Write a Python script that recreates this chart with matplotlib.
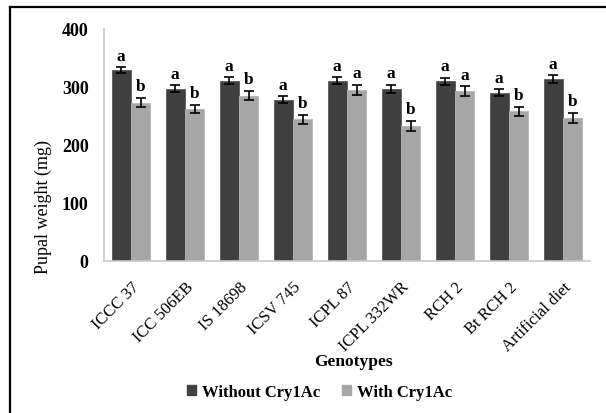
import matplotlib
matplotlib.use("Agg")
import matplotlib.pyplot as plt
import matplotlib.transforms as mtransforms
import numpy as np
from matplotlib.lines import Line2D
from matplotlib.patches import Patch

plt.rcParams['font.family'] = ['Liberation Serif', 'DejaVu Serif']

genotypes = ["ICCC 37", "ICC 506EB", "IS 18698", "ICSV 745", "ICPL 87",
             "ICPL 332WR", "RCH 2", "Bt RCH 2", "Artificial diet"]
without_cry = [329, 297, 311, 278, 311, 297, 310, 290, 314]
without_err = [5, 6, 6, 6, 6, 6.5, 6, 6, 6.3]
with_cry = [273, 262, 285, 244, 295, 233, 293, 258, 247]
with_err = [8, 7.5, 8, 8, 8.5, 8.5, 8, 8, 8.5]
letters_without = ["a"] * 9
letters_with = ["b", "b", "b", "b", "a", "b", "a", "b", "b"]
yticks = [0, 100, 200, 300, 400]

W, H = 606, 414
fig = plt.figure(figsize=(W / 100, H / 100), dpi=100)
ax = fig.add_axes([104 / W, 1 - 262 / H, 486 / W, 232 / H])

x = np.arange(len(genotypes))
bw = 0.36
dark, light = "#404040", "#a6a6a6"
ax.bar(x - bw / 2, without_cry, bw, color=dark, edgecolor="#595959", linewidth=0.6,
       label="Without Cry1Ac")
ax.bar(x + bw / 2, with_cry, bw, color=light, edgecolor="#b5b5b5", linewidth=0.6,
       label="With Cry1Ac")
ax.errorbar(x - bw / 2, without_cry, yerr=without_err, fmt="none", ecolor="black",
            elinewidth=1.2, capsize=3.5, capthick=1.2)
ax.errorbar(x + bw / 2, with_cry, yerr=with_err, fmt="none", ecolor="black",
            elinewidth=1.2, capsize=3.5, capthick=1.2)

for xi, v, e, t in zip(x - bw / 2, without_cry, without_err, letters_without):
    ax.annotate(t, (xi, v + e), xytext=(0, 5.5), textcoords="offset points",
                ha="center", va="baseline", fontsize=12.5, fontweight="bold")
for xi, v, e, t in zip(x + bw / 2, with_cry, with_err, letters_with):
    ax.annotate(t, (xi, v + e), xytext=(0, 5.5), textcoords="offset points",
                ha="center", va="baseline", fontsize=12.5, fontweight="bold")

ax.set_xlim(-0.5, len(genotypes) - 0.5)
ax.set_ylim(0, 400)
ax.set_yticks(yticks)
ax.set_yticklabels([str(t) for t in yticks], fontsize=13, fontweight="bold")
ax.set_xticks(x)
ax.set_xticklabels(genotypes, rotation=45, ha="right", rotation_mode="anchor",
                   fontsize=12)
shift = mtransforms.ScaledTranslation(2 / 100, 0, fig.dpi_scale_trans)
for lbl in ax.get_xticklabels():
    lbl.set_transform(lbl.get_transform() + shift)
ax.tick_params(axis="both", length=0)
ax.tick_params(axis="y", pad=11)
ax.tick_params(axis="x", pad=12.5)
for s in ["top", "right"]:
    ax.spines[s].set_visible(False)
for s in ["left", "bottom"]:
    ax.spines[s].set_color("#c8c8c8")
    ax.spines[s].set_linewidth(1.2)

ax.set_ylabel("Pupal weight (mg)", fontsize=13)
ax.yaxis.set_label_coords(52 / W, 0.5, transform=fig.transFigure)
fig.text(353 / W, 1 - 362 / H, "Genotypes", ha="center", va="center",
         fontsize=12.5, fontweight="bold")

handles = [Patch(color=dark), Patch(color=light)]
fig.legend(handles, ["Without Cry1Ac", "With Cry1Ac"], loc="center",
           bbox_to_anchor=(320 / W, 1 - 393 / H), ncol=2, frameon=False,
           prop={"weight": "bold", "size": 12}, handlelength=0.5, handleheight=0.5,
           handletextpad=0.4, columnspacing=1.3)

# outer frame
fig.add_artist(Line2D([10 / W, 10 / W], [0, 1 - 8 / H], transform=fig.transFigure,
                      color="black", linewidth=1.6))
fig.add_artist(Line2D([10 / W, 1], [1 - 8 / H, 1 - 8 / H], transform=fig.transFigure,
                      color="black", linewidth=1.6))

fig.savefig("out.png", dpi=100)
